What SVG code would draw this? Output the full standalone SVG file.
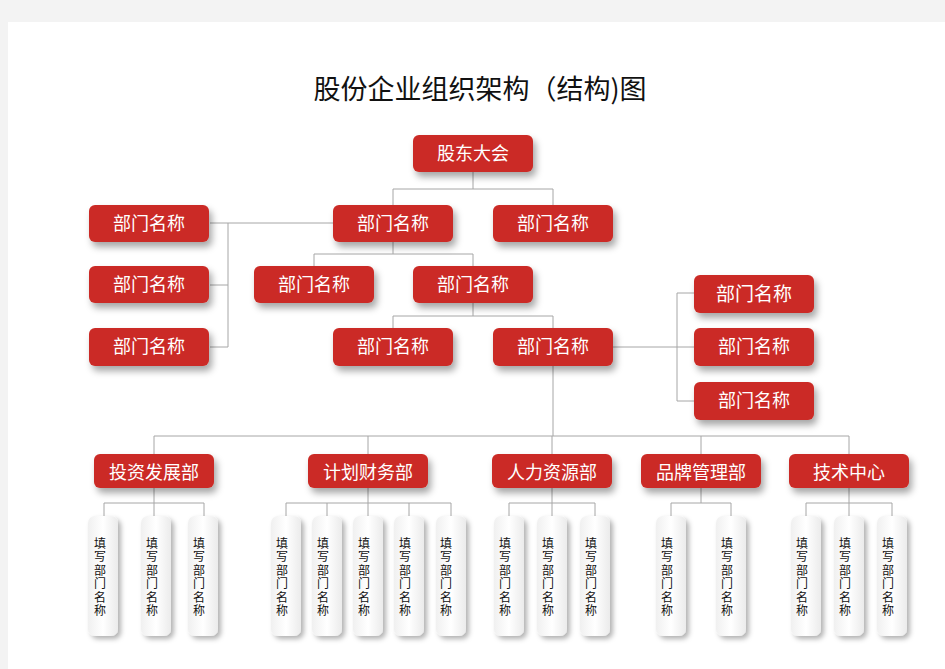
<svg xmlns="http://www.w3.org/2000/svg" width="945" height="669" viewBox="0 0 945 669">
<defs>
<filter id="sh" x="-20%" y="-30%" width="150%" height="190%">
<feDropShadow dx="3" dy="5" stdDeviation="3.5" flood-color="#000" flood-opacity="0.35"/>
</filter>
<filter id="sh2" x="-40%" y="-10%" width="190%" height="130%">
<feDropShadow dx="3" dy="3" stdDeviation="2.5" flood-color="#000" flood-opacity="0.3"/>
</filter>
<linearGradient id="wg" x1="0" y1="0" x2="1" y2="0">
<stop offset="0" stop-color="#f0f0f0"/>
<stop offset="0.5" stop-color="#ffffff"/>
<stop offset="1" stop-color="#ebebeb"/>
</linearGradient>
</defs>
<style>
.r{fill:#cb2c25;filter:url(#sh)}
.t{fill:#fff;font-family:"Noto Sans CJK SC","Noto Sans",sans-serif;font-size:18px;text-anchor:middle}
.w{fill:url(#wg);filter:url(#sh2)}
.v{fill:#111;font-family:"Noto Sans CJK SC","Noto Sans",sans-serif;font-size:12px;text-anchor:middle}
.c{fill:none;stroke:#a6a6a6;stroke-width:1}
</style>
<rect x="0" y="0" width="945" height="669" fill="#f3f3f3"/>
<rect x="8" y="22" width="937" height="647" fill="#fff"/>
<text x="480" y="99" font-family="Noto Sans CJK SC,Noto Sans,sans-serif" font-size="27" text-anchor="middle" fill="#111">股份企业组织架构（结构)图</text>
<g id="connectors" class="c">
<path class="c" d="M473,172V189M393,189H553M393,189V205M553,189V205"/>
<path class="c" d="M210,223H333M228,223V347M210,285H228M210,347H228"/>
<path class="c" d="M393,242V254M314,254H473M314,254V266M473,254V266"/>
<path class="c" d="M473,303V316M393,316H553M393,316V328M553,316V328"/>
<path class="c" d="M613,347H694M677,293V401M677,293H694M677,401H694"/>
<path class="c" d="M553,366V436M154,436H849M154,436V454M368,436V454M552,436V454M701,436V454M849,436V454"/>
<path class="c" d="M154,488V516M104,503H204M104,503V516M204,503V516"/>
<path class="c" d="M368,488V516M286,503H451M286,503V516M327,503V516M409,503V516M451,503V516"/>
<path class="c" d="M552,488V516M509,503H595M509,503V516M595,503V516"/>
<path class="c" d="M701,488V503M671,503H731M671,503V516M731,503V516"/>
<path class="c" d="M849,488V516M806,503H892M806,503V516M892,503V516"/>
</g>
<g id="n0"><rect class="r" x="413" y="135" width="120" height="37" rx="6"/><text class="t" x="473" y="160">股东大会</text></g>
<g id="n1"><rect class="r" x="333" y="205" width="120" height="37" rx="6"/><text class="t" x="393" y="230">部门名称</text></g>
<g id="n2"><rect class="r" x="493" y="205" width="120" height="37" rx="6"/><text class="t" x="553" y="230">部门名称</text></g>
<g id="n3"><rect class="r" x="89" y="205" width="120" height="37" rx="6"/><text class="t" x="149" y="230">部门名称</text></g>
<g id="n4"><rect class="r" x="89" y="266" width="120" height="37" rx="6"/><text class="t" x="149" y="291">部门名称</text></g>
<g id="n5"><rect class="r" x="89" y="328" width="120" height="38" rx="6"/><text class="t" x="149" y="353">部门名称</text></g>
<g id="n6"><rect class="r" x="254" y="266" width="120" height="37" rx="6"/><text class="t" x="314" y="291">部门名称</text></g>
<g id="n7"><rect class="r" x="413" y="266" width="120" height="37" rx="6"/><text class="t" x="473" y="291">部门名称</text></g>
<g id="n8"><rect class="r" x="333" y="328" width="120" height="38" rx="6"/><text class="t" x="393" y="353">部门名称</text></g>
<g id="n9"><rect class="r" x="493" y="328" width="120" height="38" rx="6"/><text class="t" x="553" y="353">部门名称</text></g>
<g id="n10"><rect class="r" x="694" y="275" width="120" height="38" rx="6"/><text class="t" x="754" y="301" style="font-size:19px">部门名称</text></g>
<g id="n11"><rect class="r" x="694" y="328" width="120" height="38" rx="6"/><text class="t" x="754" y="353">部门名称</text></g>
<g id="n12"><rect class="r" x="694" y="382" width="120" height="38" rx="6"/><text class="t" x="754" y="407">部门名称</text></g>
<g id="d1"><rect class="r" x="94" y="454" width="120" height="34" rx="6"/><text class="t" x="154" y="479">投资发展部</text></g>
<g id="d2"><rect class="r" x="308" y="454" width="120" height="34" rx="6"/><text class="t" x="368" y="479">计划财务部</text></g>
<g id="d3"><rect class="r" x="492" y="454" width="120" height="34" rx="6"/><text class="t" x="552" y="479">人力资源部</text></g>
<g id="d4"><rect class="r" x="641" y="454" width="120" height="34" rx="6"/><text class="t" x="701" y="479">品牌管理部</text></g>
<g id="d5"><rect class="r" x="789" y="454" width="120" height="34" rx="6"/><text class="t" x="849" y="479">技术中心</text></g>
<g id="s1"><rect class="w" x="88" y="516" width="30" height="120" rx="7"/><text class="v" y="548"><tspan x="100">填</tspan><tspan x="100" dy="13.4">写</tspan><tspan x="100" dy="13.4">部</tspan><tspan x="100" dy="13.4">门</tspan><tspan x="100" dy="13.4">名</tspan><tspan x="100" dy="13.4">称</tspan></text></g>
<g id="s2"><rect class="w" x="141" y="516" width="30" height="120" rx="7"/><text class="v" y="548"><tspan x="152">填</tspan><tspan x="152" dy="13.4">写</tspan><tspan x="152" dy="13.4">部</tspan><tspan x="152" dy="13.4">门</tspan><tspan x="152" dy="13.4">名</tspan><tspan x="152" dy="13.4">称</tspan></text></g>
<g id="s3"><rect class="w" x="188" y="516" width="30" height="120" rx="7"/><text class="v" y="548"><tspan x="199">填</tspan><tspan x="199" dy="13.4">写</tspan><tspan x="199" dy="13.4">部</tspan><tspan x="199" dy="13.4">门</tspan><tspan x="199" dy="13.4">名</tspan><tspan x="199" dy="13.4">称</tspan></text></g>
<g id="s4"><rect class="w" x="271" y="516" width="30" height="120" rx="7"/><text class="v" y="548"><tspan x="282">填</tspan><tspan x="282" dy="13.4">写</tspan><tspan x="282" dy="13.4">部</tspan><tspan x="282" dy="13.4">门</tspan><tspan x="282" dy="13.4">名</tspan><tspan x="282" dy="13.4">称</tspan></text></g>
<g id="s5"><rect class="w" x="312" y="516" width="30" height="120" rx="7"/><text class="v" y="548"><tspan x="323">填</tspan><tspan x="323" dy="13.4">写</tspan><tspan x="323" dy="13.4">部</tspan><tspan x="323" dy="13.4">门</tspan><tspan x="323" dy="13.4">名</tspan><tspan x="323" dy="13.4">称</tspan></text></g>
<g id="s6"><rect class="w" x="353" y="516" width="30" height="120" rx="7"/><text class="v" y="548"><tspan x="364">填</tspan><tspan x="364" dy="13.4">写</tspan><tspan x="364" dy="13.4">部</tspan><tspan x="364" dy="13.4">门</tspan><tspan x="364" dy="13.4">名</tspan><tspan x="364" dy="13.4">称</tspan></text></g>
<g id="s7"><rect class="w" x="394" y="516" width="30" height="120" rx="7"/><text class="v" y="548"><tspan x="405">填</tspan><tspan x="405" dy="13.4">写</tspan><tspan x="405" dy="13.4">部</tspan><tspan x="405" dy="13.4">门</tspan><tspan x="405" dy="13.4">名</tspan><tspan x="405" dy="13.4">称</tspan></text></g>
<g id="s8"><rect class="w" x="436" y="516" width="30" height="120" rx="7"/><text class="v" y="548"><tspan x="446">填</tspan><tspan x="446" dy="13.4">写</tspan><tspan x="446" dy="13.4">部</tspan><tspan x="446" dy="13.4">门</tspan><tspan x="446" dy="13.4">名</tspan><tspan x="446" dy="13.4">称</tspan></text></g>
<g id="s9"><rect class="w" x="494" y="516" width="30" height="120" rx="7"/><text class="v" y="548"><tspan x="505">填</tspan><tspan x="505" dy="13.4">写</tspan><tspan x="505" dy="13.4">部</tspan><tspan x="505" dy="13.4">门</tspan><tspan x="505" dy="13.4">名</tspan><tspan x="505" dy="13.4">称</tspan></text></g>
<g id="s10"><rect class="w" x="537" y="516" width="30" height="120" rx="7"/><text class="v" y="548"><tspan x="548">填</tspan><tspan x="548" dy="13.4">写</tspan><tspan x="548" dy="13.4">部</tspan><tspan x="548" dy="13.4">门</tspan><tspan x="548" dy="13.4">名</tspan><tspan x="548" dy="13.4">称</tspan></text></g>
<g id="s11"><rect class="w" x="580" y="516" width="30" height="120" rx="7"/><text class="v" y="548"><tspan x="591">填</tspan><tspan x="591" dy="13.4">写</tspan><tspan x="591" dy="13.4">部</tspan><tspan x="591" dy="13.4">门</tspan><tspan x="591" dy="13.4">名</tspan><tspan x="591" dy="13.4">称</tspan></text></g>
<g id="s12"><rect class="w" x="656" y="516" width="30" height="120" rx="7"/><text class="v" y="548"><tspan x="667">填</tspan><tspan x="667" dy="13.4">写</tspan><tspan x="667" dy="13.4">部</tspan><tspan x="667" dy="13.4">门</tspan><tspan x="667" dy="13.4">名</tspan><tspan x="667" dy="13.4">称</tspan></text></g>
<g id="s13"><rect class="w" x="716" y="516" width="30" height="120" rx="7"/><text class="v" y="548"><tspan x="727">填</tspan><tspan x="727" dy="13.4">写</tspan><tspan x="727" dy="13.4">部</tspan><tspan x="727" dy="13.4">门</tspan><tspan x="727" dy="13.4">名</tspan><tspan x="727" dy="13.4">称</tspan></text></g>
<g id="s14"><rect class="w" x="791" y="516" width="30" height="120" rx="7"/><text class="v" y="548"><tspan x="802">填</tspan><tspan x="802" dy="13.4">写</tspan><tspan x="802" dy="13.4">部</tspan><tspan x="802" dy="13.4">门</tspan><tspan x="802" dy="13.4">名</tspan><tspan x="802" dy="13.4">称</tspan></text></g>
<g id="s15"><rect class="w" x="834" y="516" width="30" height="120" rx="7"/><text class="v" y="548"><tspan x="845">填</tspan><tspan x="845" dy="13.4">写</tspan><tspan x="845" dy="13.4">部</tspan><tspan x="845" dy="13.4">门</tspan><tspan x="845" dy="13.4">名</tspan><tspan x="845" dy="13.4">称</tspan></text></g>
<g id="s16"><rect class="w" x="877" y="516" width="30" height="120" rx="7"/><text class="v" y="548"><tspan x="888">填</tspan><tspan x="888" dy="13.4">写</tspan><tspan x="888" dy="13.4">部</tspan><tspan x="888" dy="13.4">门</tspan><tspan x="888" dy="13.4">名</tspan><tspan x="888" dy="13.4">称</tspan></text></g>
</svg>
